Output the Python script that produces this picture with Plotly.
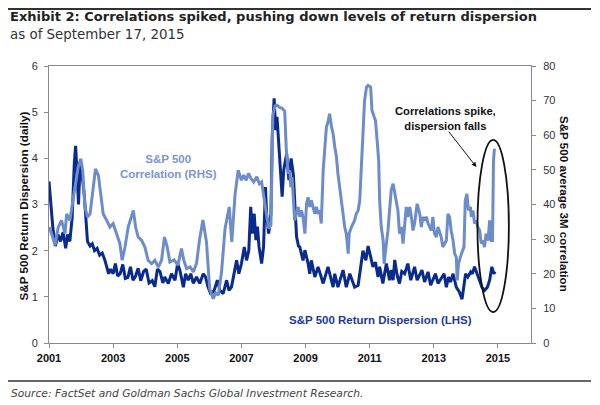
import plotly.graph_objects as go

# ---------------- data ----------------
disp_year = [2001.00, 2001.05, 2001.12, 2001.20, 2001.28, 2001.36, 2001.44, 2001.52, 2001.58, 2001.65,
             2001.72, 2001.79, 2001.83, 2001.88, 2001.92, 2001.97, 2002.02, 2002.10, 2002.15, 2002.20,
             2002.28, 2002.35, 2002.42, 2002.50, 2002.58, 2002.66, 2002.74, 2002.80, 2002.86, 2002.92,
             2003.00, 2003.07, 2003.14, 2003.22, 2003.30, 2003.38, 2003.46, 2003.54, 2003.62, 2003.70,
             2003.78, 2003.86, 2003.95, 2004.03, 2004.12, 2004.22, 2004.30, 2004.38, 2004.46, 2004.55,
             2004.61, 2004.72, 2004.82, 2004.93, 2005.01, 2005.08, 2005.19, 2005.26, 2005.34, 2005.42,
             2005.50, 2005.60, 2005.70, 2005.81, 2005.88, 2005.96, 2006.05, 2006.15, 2006.25, 2006.33,
             2006.43, 2006.54, 2006.61, 2006.69, 2006.77, 2006.85, 2006.92, 2007.00, 2007.09, 2007.16,
             2007.23, 2007.29, 2007.34, 2007.40, 2007.45, 2007.50, 2007.55, 2007.63, 2007.69, 2007.75,
             2007.79, 2007.85, 2007.92, 2007.96, 2008.02, 2008.07, 2008.11, 2008.17, 2008.22, 2008.27,
             2008.32, 2008.41, 2008.48, 2008.55, 2008.62, 2008.68, 2008.72, 2008.78, 2008.82, 2008.92,
             2008.98, 2009.08, 2009.13, 2009.18, 2009.29, 2009.39, 2009.55, 2009.70, 2009.86, 2009.91,
             2010.01, 2010.17, 2010.27, 2010.38, 2010.53, 2010.64, 2010.72, 2010.79, 2010.88, 2010.95,
             2011.02, 2011.10, 2011.18, 2011.26, 2011.31, 2011.41, 2011.52, 2011.62, 2011.67, 2011.73,
             2011.78, 2011.86, 2011.93, 2012.00, 2012.09, 2012.19, 2012.28, 2012.40, 2012.48, 2012.63,
             2012.71, 2012.82, 2012.90, 2013.05, 2013.13, 2013.32, 2013.39, 2013.46, 2013.52, 2013.60,
             2013.70, 2013.80, 2013.88, 2013.94, 2013.99, 2014.06, 2014.15, 2014.20, 2014.27, 2014.35,
             2014.43, 2014.50, 2014.58, 2014.67, 2014.74, 2014.81, 2014.87, 2014.91]
disp_val = [3.50, 3.10, 2.50, 2.10, 2.35, 2.20, 2.40, 2.05, 2.35, 2.20,
            2.70, 3.90, 4.27, 3.60, 3.00, 3.90, 3.70, 3.20, 2.60, 2.20,
            2.10, 2.15, 2.00, 2.05, 1.90, 1.95, 1.80, 1.65, 1.50, 1.60,
            1.50, 1.72, 1.45, 1.50, 1.70, 1.40, 1.42, 1.65, 1.36, 1.45,
            1.62, 1.35, 1.55, 1.60, 1.30, 1.35, 1.22, 1.60, 1.55, 1.30,
            1.43, 1.29, 1.50, 1.36, 1.72, 1.58, 1.21, 1.50, 1.36, 1.50,
            1.29, 1.43, 1.29, 1.50, 1.43, 1.21, 1.05, 1.14, 1.36, 1.14,
            1.07, 1.36, 1.14, 1.21, 1.50, 1.79, 1.50, 1.72, 2.08, 1.79,
            2.00, 2.95, 2.37, 2.80, 2.23, 2.52, 2.08, 1.72, 2.08, 3.38,
            2.73, 2.37, 2.80, 4.47, 5.30, 4.61, 4.90, 4.25, 3.75, 3.17,
            3.75, 4.10, 3.53, 4.00, 3.64, 2.66, 2.30, 2.10, 2.08, 1.79,
            2.01, 1.72, 1.50, 1.79, 1.43, 1.65, 1.29, 1.65, 1.21, 1.50,
            1.21, 1.58, 1.21, 1.50, 1.21, 1.25, 1.60, 2.00, 1.79, 2.10,
            1.90, 1.65, 1.75, 1.43, 1.65, 1.29, 1.72, 1.36, 1.58, 1.36,
            1.80, 1.45, 1.29, 1.55, 1.50, 1.72, 1.36, 1.65, 1.36, 1.58,
            1.32, 1.54, 1.25, 1.50, 1.29, 1.50, 1.21, 1.43, 1.32, 1.50,
            1.21, 1.10, 0.95, 1.21, 1.50, 1.43, 1.54, 1.50, 1.65, 1.50,
            1.36, 1.21, 1.14, 1.21, 1.36, 1.65, 1.50, 1.55]

corr_year = [2001.00, 2001.08, 2001.19, 2001.29, 2001.39, 2001.50, 2001.55, 2001.65, 2001.73, 2001.81,
             2001.91, 2001.99, 2002.05, 2002.12, 2002.20, 2002.28, 2002.38, 2002.45, 2002.54, 2002.62,
             2002.69, 2002.80, 2002.90, 2003.00, 2003.11, 2003.21, 2003.28, 2003.37, 2003.47, 2003.58,
             2003.63, 2003.70, 2003.78, 2003.89, 2003.99, 2004.09, 2004.20, 2004.30, 2004.41, 2004.51,
             2004.60, 2004.68, 2004.77, 2004.90, 2005.02, 2005.13, 2005.20, 2005.29, 2005.40, 2005.50,
             2005.60, 2005.70, 2005.80, 2005.91, 2006.01, 2006.12, 2006.20, 2006.28, 2006.38, 2006.49,
             2006.62, 2006.70, 2006.80, 2006.90, 2007.00, 2007.07, 2007.15, 2007.22, 2007.30, 2007.38,
             2007.48, 2007.56, 2007.63, 2007.74, 2007.85, 2007.92, 2007.98, 2008.05, 2008.11, 2008.20,
             2008.27, 2008.35, 2008.40, 2008.46, 2008.51, 2008.54, 2008.58, 2008.61, 2008.66, 2008.77,
             2008.82, 2008.87, 2008.92, 2008.98, 2009.03, 2009.08, 2009.13, 2009.18, 2009.29, 2009.34,
             2009.39, 2009.44, 2009.49, 2009.55, 2009.60, 2009.65, 2009.70, 2009.75, 2009.81, 2009.86,
             2009.91, 2009.96, 2010.01, 2010.07, 2010.12, 2010.17, 2010.22, 2010.27, 2010.33, 2010.36,
             2010.43, 2010.48, 2010.53, 2010.58, 2010.64, 2010.69, 2010.74, 2010.79, 2010.84, 2010.90,
             2010.95, 2011.03, 2011.07, 2011.14, 2011.18, 2011.24, 2011.28, 2011.31, 2011.36, 2011.42,
             2011.45, 2011.52, 2011.57, 2011.62, 2011.67, 2011.73, 2011.78, 2011.83, 2011.88, 2011.93,
             2011.99, 2012.04, 2012.09, 2012.14, 2012.19, 2012.25, 2012.30, 2012.35, 2012.40, 2012.48,
             2012.56, 2012.61, 2012.66, 2012.71, 2012.77, 2012.82, 2012.92, 2012.97, 2013.02, 2013.08,
             2013.13, 2013.23, 2013.28, 2013.39, 2013.44, 2013.49, 2013.54, 2013.60, 2013.65, 2013.70,
             2013.73, 2013.77, 2013.86, 2013.94, 2013.98, 2014.03, 2014.08, 2014.14, 2014.17, 2014.22,
             2014.27, 2014.32, 2014.37, 2014.43, 2014.48, 2014.53, 2014.58, 2014.63, 2014.69, 2014.74,
             2014.79, 2014.83, 2014.86, 2014.89]
corr_val = [33.5, 31.6, 28.2, 33.5, 35.4, 31.6, 37.3, 35.4, 40.2, 45.0,
            50.8, 53.2, 49.9, 39.3, 36.4, 37.3, 46.0, 50.3, 48.4, 43.1,
            37.3, 35.4, 33.5, 34.5, 31.6, 28.7, 23.9, 27.7, 33.5, 36.4,
            38.3, 33.5, 30.6, 29.6, 27.7, 23.9, 22.9, 23.9, 21.9, 23.9,
            30.6, 28.0, 23.4, 24.0, 22.5, 27.3, 24.0, 21.5, 22.0, 20.5,
            23.0, 30.2, 35.5, 29.2, 15.7, 12.8, 14.5, 13.8, 20.5, 33.1,
            39.3, 29.2, 42.7, 49.9, 47.0, 48.5, 47.0, 49.0, 47.5, 46.5,
            48.0, 46.0, 46.5, 39.8, 33.1, 34.0, 65.8, 68.5, 68.7, 68.0,
            67.8, 67.0, 55.6, 48.9, 49.9, 45.0, 47.9, 43.1, 35.4, 39.3,
            36.4, 38.3, 36.4, 31.6, 40.2, 42.1, 39.3, 41.2, 37.3, 39.3,
            37.3, 38.3, 34.5, 49.9, 57.6, 62.4, 63.8, 66.2, 62.4, 60.4,
            56.6, 54.0, 48.9, 45.0, 41.2, 37.3, 33.5, 31.6, 25.8, 31.6,
            33.5, 34.5, 35.4, 37.3, 38.3, 41.2, 49.9, 60.4, 70.0, 73.9,
            74.4, 73.9, 67.2, 65.3, 64.3, 57.6, 52.7, 41.2, 33.5, 29.6,
            22.9, 28.7, 32.5, 38.3, 44.1, 46.0, 43.1, 41.2, 38.3, 31.6,
            33.5, 28.7, 35.4, 39.3, 36.4, 39.3, 36.4, 32.5, 34.5, 40.2,
            37.3, 33.5, 36.4, 35.4, 36.4, 34.5, 32.5, 36.4, 31.6, 30.6,
            33.5, 30.6, 27.7, 29.6, 37.3, 36.4, 32.5, 29.6, 25.8, 24.8,
            18.1, 22.9, 25.8, 27.7, 41.2, 43.1, 38.3, 39.3, 36.4, 38.3,
            34.5, 35.4, 33.5, 32.5, 28.7, 29.6, 27.7, 31.6, 29.6, 35.4,
            29.6, 29.6, 52.7, 56.1]

x_ticks = [2001, 2003, 2005, 2007, 2009, 2011, 2013, 2015]
left_ticks = [0, 1, 2, 3, 4, 5, 6]
right_ticks = [0, 10, 20, 30, 40, 50, 60, 70, 80]

# ---------------- styling ----------------
DARK = "#0a2b8e"
LIGHT = "#6d8cca"
AXIS = "#8a8a8a"
FONT = "Arial, Liberation Sans, sans-serif"
WIDE = "DejaVu Sans, Arial, sans-serif"

# the page body has an 8px margin, so the figure is drawn 8px in from the corner
OFF = 8
PL, PR, PT, PB = 49, 531, 66, 343   # plot area in page pixels

fig = go.Figure()
fig.add_trace(go.Scatter(x=corr_year, y=corr_val, yaxis="y2", mode="lines",
                         line=dict(color=LIGHT, width=3), name="S&P 500 Correlation (RHS)"))
fig.add_trace(go.Scatter(x=disp_year, y=disp_val, yaxis="y", mode="lines",
                         line=dict(color=DARK, width=3), name="S&P 500 Return Dispersion (LHS)"))

W, H = 600 - OFF, 405 - OFF
fig.update_layout(
    width=W, height=H,
    margin=dict(l=PL - OFF, r=W - (PR - OFF), t=PT - OFF, b=H - (PB - OFF)),
    paper_bgcolor="white", plot_bgcolor="white",
    showlegend=False,
    font=dict(family=FONT, color="#222"),
    xaxis=dict(range=[2001, 2016.03], tickvals=x_ticks,
               ticktext=[f"<b>{t}</b>" for t in x_ticks],
               tickfont=dict(size=11, color="#111"),
               showgrid=False, zeroline=False,
               showline=True, linecolor=AXIS, linewidth=1, mirror=True,
               ticks="outside", ticklen=4, tickcolor=AXIS, ticklabelstandoff=1),
    yaxis=dict(range=[0, 6], tickvals=left_ticks, tickfont=dict(size=11, color="#333"),
               showgrid=False, zeroline=False,
               showline=True, linecolor=AXIS, linewidth=1,
               ticks="outside", ticklen=4, tickcolor=AXIS, ticklabelstandoff=4),
    yaxis2=dict(range=[0, 80], tickvals=right_ticks, tickfont=dict(size=11, color="#333"),
                overlaying="y", side="right",
                showgrid=False, zeroline=False,
                showline=True, linecolor=AXIS, linewidth=1,
                ticks="outside", ticklen=4, tickcolor=AXIS, ticklabelstandoff=5),
)

def px_x(p):  # page pixel -> paper x
    return (p - PL) / float(PR - PL)

def px_y(p):  # page pixel -> paper y
    return (PB - p) / float(PB - PT)

annotations = [
    dict(text="<b>Exhibit 2: Correlations spiked, pushing down levels of return dispersion</b>",
         xref="paper", yref="paper", x=px_x(8), y=px_y(17), xanchor="left", yanchor="middle",
         showarrow=False, font=dict(family=WIDE, size=13.0, color="#222")),
    dict(text="as of September 17, 2015",
         xref="paper", yref="paper", x=px_x(8), y=px_y(34.5), xanchor="left", yanchor="middle",
         showarrow=False, font=dict(family=WIDE, size=13.4, color="#333")),
    dict(text="<i>Source: FactSet and Goldman Sachs Global Investment Research.</i>",
         xref="paper", yref="paper", x=px_x(9), y=px_y(393.5), xanchor="left", yanchor="middle",
         showarrow=False, font=dict(family=WIDE, size=10.7, color="#444")),
    dict(text="<b>S&P 500 Return Dispersion (daily)</b>",
         xref="paper", yref="paper", x=px_x(22.5), y=px_y(206), xanchor="center", yanchor="middle",
         textangle=-90, showarrow=False, font=dict(size=11.7, color="#111")),
    dict(text="<b>S&P 500 average 3M correlation</b>",
         xref="paper", yref="paper", x=px_x(565), y=px_y(204), xanchor="center", yanchor="middle",
         textangle=90, showarrow=False, font=dict(size=11.6, color="#111")),
    dict(text="<b>S&P 500<br>Correlation (RHS)</b>",
         xref="paper", yref="paper", x=px_x(168), y=px_y(166), xanchor="center", yanchor="middle",
         showarrow=False, font=dict(size=11.5, color="#7d95d1")),
    dict(text="<b>S&P 500 Return Dispersion (LHS)</b>",
         xref="paper", yref="paper", x=px_x(380), y=px_y(320), xanchor="center", yanchor="middle",
         showarrow=False, font=dict(size=11.5, color="#1c3a99")),
    dict(text="<b>Correlations spike,<br>dispersion falls</b>",
         xref="paper", yref="paper", x=px_x(445), y=px_y(118), xanchor="center", yanchor="middle",
         showarrow=False, font=dict(size=11.2, color="#111")),
    # arrow
    dict(text="", xref="x", yref="y", x=2014.33, y=3.81,
         axref="x", ayref="y", ax=2013.43, ay=4.61,
         showarrow=True, arrowhead=2, arrowsize=1, arrowwidth=1, arrowcolor="#111"),
]
for a in annotations:
    fig.add_annotation(**a)

# ellipse around the latest spike
fig.add_shape(type="circle", xref="x", yref="y",
              x0=2014.36, x1=2015.34, y0=0.67, y1=4.40,
              line=dict(color="#111", width=1.8))
# rule lines at top and bottom
fig.add_shape(type="line", xref="paper", yref="paper",
              x0=px_x(8), x1=px_x(591), y0=px_y(9), y1=px_y(9),
              line=dict(color="#333", width=2))
fig.add_shape(type="line", xref="paper", yref="paper",
              x0=px_x(8), x1=px_x(591), y0=px_y(381), y1=px_y(381),
              line=dict(color="#333", width=1.5))

fig.write_html("out.html")
